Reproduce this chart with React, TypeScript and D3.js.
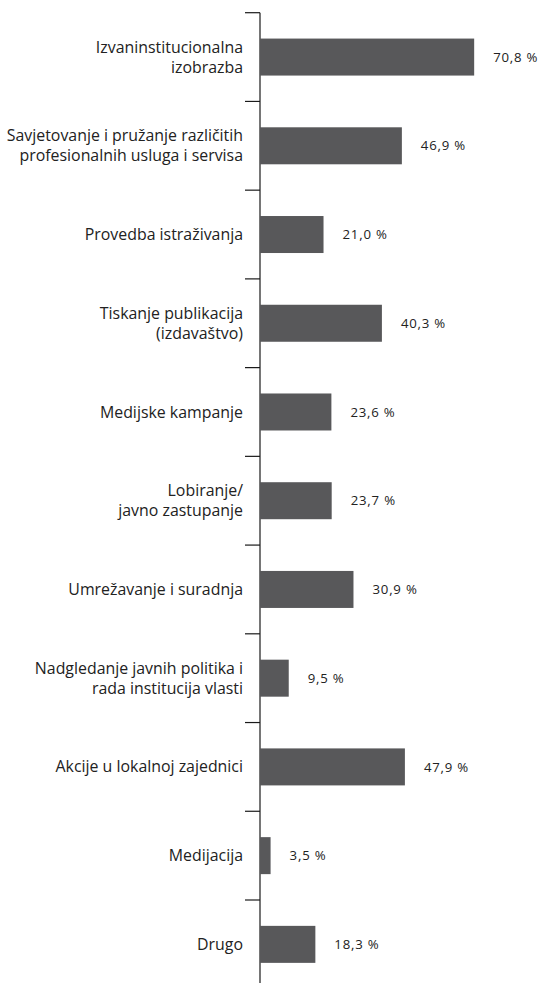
import React from 'react';
import * as d3 from 'd3';

// categories (line breaks as in the original) and shares in %
const categories = [
  ['Izvaninstitucionalna', 'izobrazba'],
  ['Savjetovanje i pružanje različitih', 'profesionalnih usluga i servisa'],
  ['Provedba istraživanja'],
  ['Tiskanje publikacija', '(izdavaštvo)'],
  ['Medijske kampanje'],
  ['Lobiranje/', 'javno zastupanje'],
  ['Umrežavanje i suradnja'],
  ['Nadgledanje javnih politika i', 'rada institucija vlasti'],
  ['Akcije u lokalnoj zajednici'],
  ['Medijacija'],
  ['Drugo'],
];
const values = [70.8, 46.9, 21.0, 40.3, 23.6, 23.7, 30.9, 9.5, 47.9, 3.5, 18.3];

const width = 540;
const height = 983;
const axisX = 260;
const top = 12.7;
const step = 88.73;

export default function App() {
  const keys = categories.map((c) => c.join(' '));
  const y = d3
    .scaleBand<string>()
    .domain(keys)
    .range([top, top + step * keys.length])
    .paddingInner(0.583)
    .paddingOuter(0.2915);

  const x = d3.scaleLinear().domain([0, 100]).range([axisX, axisX + 302.5]);
  const fmt = (v: number) => d3.format('.1f')(v).replace('.', ',') + ' %';
  const half = (y.step() * y.paddingInner()) / 2;

  return (
    <svg
      width={width}
      height={height}
      style={{ position: 'absolute', left: 0, top: 0, background: '#fff' }}
      fontFamily="'Open Sans', sans-serif"
    >
      {/* axis line + band boundary ticks */}
      <line x1={axisX} x2={axisX} y1={top} y2={height} stroke="#1a1a1a" strokeWidth={1.2} />
      {keys.map((k) => (
        <line
          key={'t' + k}
          x1={axisX - 15}
          x2={axisX}
          y1={y(k)! - half}
          y2={y(k)! - half}
          stroke="#1a1a1a"
          strokeWidth={1.2}
        />
      ))}

      {keys.map((k, i) => {
        const cy = y(k)! + y.bandwidth() / 2;
        const lines = categories[i];
        const lh = 20;
        return (
          <g key={k}>
            <rect x={x(0)} y={y(k)} width={x(values[i]) - x(0)} height={y.bandwidth()} fill="#58585a" />
            <text
              x={x(values[i]) + 19}
              y={cy}
              dy="0.35em"
              fontSize={13.2}
              letterSpacing={0.8}
              fill="#222"
            >
              {fmt(values[i])}
            </text>
            <text x={axisX - 17} textAnchor="end" fontSize={15.9} fill="#222">
              {lines.map((l, j) => (
                <tspan key={j} x={axisX - 17} y={cy + (j - (lines.length - 1) / 2) * lh} dy="0.35em">
                  {l}
                </tspan>
              ))}
            </text>
          </g>
        );
      })}
    </svg>
  );
}
